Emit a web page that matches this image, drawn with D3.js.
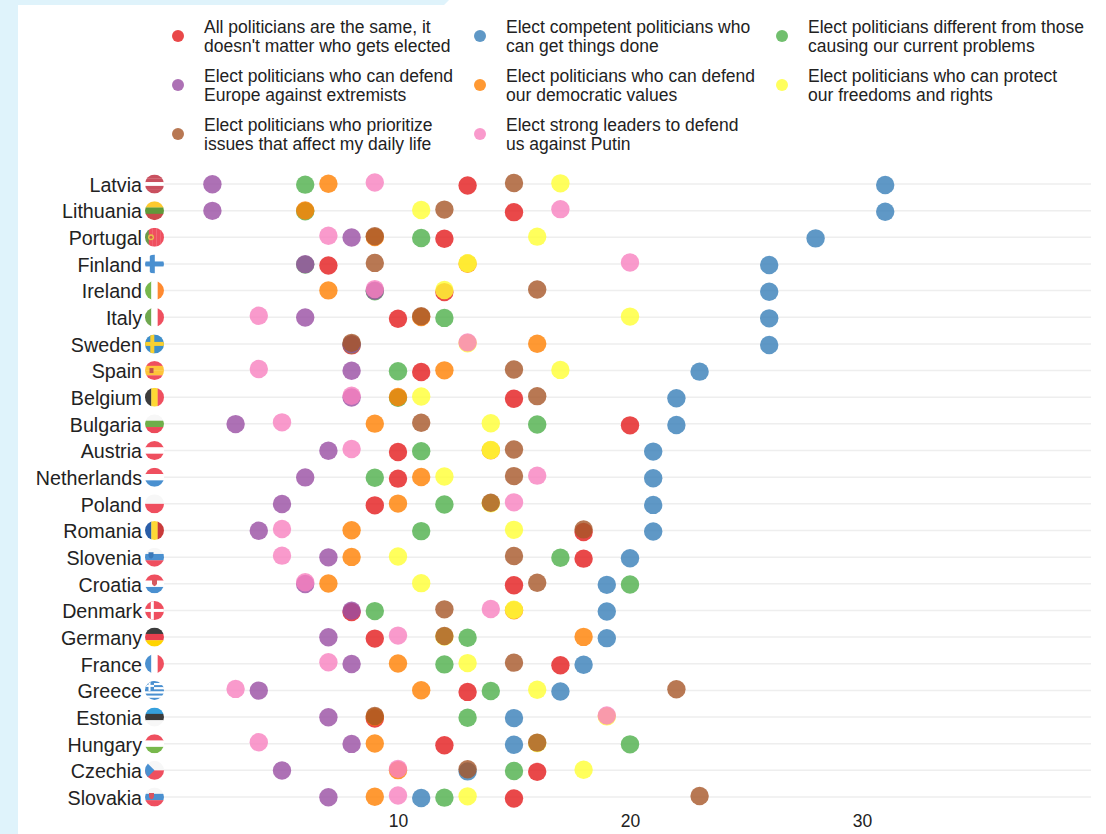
<!DOCTYPE html>
<html lang="en">
<head>
    <meta charset="UTF-8">
    <title>Voter priorities by country</title>
    <script src="https://d3js.org/d3.v7.min.js"></script>
    <style>
        html, body { margin: 0; padding: 0; background: #fff; }
        svg { display: block; font-family: "Liberation Sans", Arial, sans-serif; }
    </style>
</head>
<body>
    <div id="chart"></div>

    <script>
        const countries = ["Latvia", "Lithuania", "Portugal", "Finland", "Ireland", "Italy", "Sweden", "Spain",
            "Belgium", "Bulgaria", "Austria", "Netherlands", "Poland", "Romania", "Slovenia", "Croatia",
            "Denmark", "Germany", "France", "Greece", "Estonia", "Hungary", "Czechia", "Slovakia"];

        const red    = [13, 15, 12, 7, 12, 10, 8, 11, 15, 20, 10, 10, 9, 18, 18, 15, 8, 9, 17, 13, 9, 12, 16, 15];
        const blue   = [31, 31, 28, 26, 26, 26, 26, 23, 22, 22, 21, 21, 21, 21, 20, 19, 19, 19, 18, 17, 15, 15, 13, 11];
        const green  = [6, 6, 11, 6, 9, 12, 8, 10, 10, 16, 11, 9, 12, 11, 17, 20, 9, 13, 12, 14, 13, 20, 15, 12];
        const purple = [2, 2, 8, 6, 9, 6, 8, 8, 8, 3, 7, 6, 5, 4, 7, 6, 8, 7, 8, 4, 7, 8, 5, 7];
        const orange = [7, 6, 9, 13, 7, 11, 16, 12, 10, 9, 14, 11, 10, 8, 8, 7, 15, 18, 10, 11, 9, 9, 10, 9];
        const yellow = [17, 11, 16, 13, 12, 20, 13, 17, 11, 14, 14, 12, 14, 15, 10, 11, 15, 12, 13, 16, 19, 16, 18, 13];
        const brown  = [15, 12, 9, 9, 16, 11, 8, 15, 16, 11, 15, 15, 14, 18, 15, 16, 12, 12, 15, 22, 9, 16, 13, 23];
        const pink   = [9, 17, 7, 20, 9, 4, 13, 4, 8, 5, 8, 16, 15, 5, 5, 6, 14, 10, 7, 3, 19, 4, 10, 10];

        const seriesValues = [red, blue, green, purple, orange, yellow, brown, pink];
        const seriesColors = ["#e41a1c", "#377eb8", "#4daf4a", "#984ea3", "#ff7f00", "#ffff33", "#a65628", "#f781bf"];
        const seriesLabels = [
            ["All politicians are the same, it", "doesn't matter who gets elected"],
            ["Elect competent politicians who", "can get things done"],
            ["Elect politicians different from those", "causing our current problems"],
            ["Elect politicians who can defend", "Europe against extremists"],
            ["Elect politicians who can defend", "our democratic values"],
            ["Elect politicians who can protect", "our freedoms and rights"],
            ["Elect politicians who prioritize", "issues that affect my daily life"],
            ["Elect strong leaders to defend", "us against Putin"]
        ];
        const xTicks = [10, 20, 30];

        const width = 1106, height = 834;

        const svg = d3.select("#chart").append("svg")
            .attr("width", width)
            .attr("height", height);

        // page background the chart card sits on
        svg.append("path")
            .attr("d", "M0,0H449L444,5H18V834H0Z")
            .attr("fill", "#dff3fb");

        const x = d3.scaleLinear().domain([0, 40]).range([166, 1094]);
        const y = d3.scalePoint().domain(countries).range([184, 797]);
        // small vertical dodge between series, pink sits highest and red lowest
        const dodge = d3.scalePoint().domain([7, 6, 5, 4, 3, 2, 1, 0]).range([-1.5, 1.5]);

        // grid
        svg.append("g").selectAll("line")
            .data(countries)
            .join("line")
            .attr("x1", 164)
            .attr("x2", 1091)
            .attr("y1", d => y(d))
            .attr("y2", d => y(d))
            .attr("stroke", "#eeeeee")
            .attr("stroke-width", 1.5);

        // axes
        const yAxis = svg.append("g")
            .attr("transform", "translate(146,1)")
            .call(d3.axisLeft(y).tickSize(0).tickPadding(4));
        yAxis.select(".domain").remove();
        yAxis.selectAll("text")
            .attr("font-family", "'Liberation Sans', Arial, sans-serif")
            .attr("font-size", 19.7)
            .attr("fill", "#222");

        const xAxis = svg.append("g")
            .attr("transform", "translate(0,812)")
            .call(d3.axisBottom(x).tickValues(xTicks).tickSize(0).tickPadding(3));
        xAxis.select(".domain").remove();
        xAxis.selectAll("text")
            .attr("font-family", "'Liberation Sans', Arial, sans-serif")
            .attr("font-size", 17.5)
            .attr("fill", "#222");

        // flags
        const R = 9.5, flagX = 154.5;
        const defs = svg.append("defs");
        defs.append("clipPath").attr("id", "flag-clip")
            .append("circle").attr("r", R);

        const hStripes = (g, colors) => {
            const b = d3.scaleBand().domain(d3.range(colors.length)).range([-R, R]);
            g.selectAll(null).data(colors).join("rect")
                .attr("x", -R).attr("width", 2 * R)
                .attr("y", (d, i) => b(i)).attr("height", b.bandwidth() + 0.2)
                .attr("fill", d => d);
        };
        const vStripes = (g, colors) => {
            const b = d3.scaleBand().domain(d3.range(colors.length)).range([-R, R]);
            g.selectAll(null).data(colors).join("rect")
                .attr("y", -R).attr("height", 2 * R)
                .attr("x", (d, i) => b(i)).attr("width", b.bandwidth() + 0.2)
                .attr("fill", d => d);
        };
        const cross = (g, bg, color, t) => {
            hStripes(g, [bg]);
            g.append("rect").attr("x", -R).attr("y", -t / 2).attr("width", 2 * R).attr("height", t).attr("fill", color);
            g.append("rect").attr("x", -2.2 - t / 2).attr("y", -R).attr("width", t).attr("height", 2 * R).attr("fill", color);
        };
        const shield = (g, cx, cy, fill) => {
            g.append("path")
                .attr("d", `M${cx - 2.5},${cy - 3}h5v3.5q0,2 -2.5,3q-2.5,-1 -2.5,-3z`)
                .attr("fill", fill);
        };

        const fRed = "#ef4f5f", fBlue = "#4a90d0", fWhite = "#f7f7f7", fGreen = "#78b84c",
              fYellow = "#fdd835", fBlack = "#3c3c3c";

        const flags = {
            Latvia: g => hStripes(g, ["#c9505f", "#c9505f", "#fff", "#c9505f", "#c9505f"]),
            Lithuania: g => hStripes(g, ["#fdc92f", "#5f9a3a", "#c94b4b"]),
            Portugal: g => {
                vStripes(g, ["#6a9a4a", fRed, fRed, fRed, fRed]);
                g.append("circle").attr("cx", -3.5).attr("r", 3).attr("fill", "#e8c24a");
                g.append("circle").attr("cx", -3.5).attr("r", 1.5).attr("fill", "#d9534f");
            },
            Finland: g => cross(g, "#fff", fBlue, 5),
            Ireland: g => vStripes(g, [fGreen, "#fff", "#ff8a30"]),
            Italy: g => vStripes(g, ["#6fa84f", "#fff", fRed]),
            Sweden: g => cross(g, "#3f8fc9", "#f9d030", 4),
            Spain: g => {
                hStripes(g, [fRed, "#fdc53a", "#fdc53a", fRed]);
                g.append("rect").attr("x", -5).attr("y", -2.5).attr("width", 4).attr("height", 5).attr("fill", "#c0504d");
            },
            Belgium: g => vStripes(g, [fBlack, fYellow, fRed]),
            Bulgaria: g => hStripes(g, [fWhite, "#6faf4a", "#ec4a5a"]),
            Austria: g => hStripes(g, [fRed, "#fff", fRed]),
            Netherlands: g => hStripes(g, [fRed, "#fff", fBlue]),
            Poland: g => hStripes(g, [fWhite, fRed]),
            Romania: g => vStripes(g, ["#2a5ea8", fYellow, "#c93a3a"]),
            Slovenia: g => {
                hStripes(g, [fWhite, fBlue, fRed]);
                shield(g, -3.5, -2, "#3a78b8");
            },
            Croatia: g => {
                hStripes(g, [fRed, "#fff", fBlue]);
                shield(g, 0, -1, "#d65a5f");
            },
            Denmark: g => cross(g, fRed, "#fff", 3),
            Germany: g => hStripes(g, [fBlack, "#e8404f", "#ffd400"]),
            France: g => vStripes(g, [fBlue, "#fff", fRed]),
            Greece: g => {
                hStripes(g, [fBlue, "#fff", fBlue, "#fff", fBlue, "#fff", fBlue, "#fff", fBlue]);
                g.append("rect").attr("x", -R).attr("y", -R).attr("width", 9).attr("height", 10).attr("fill", fBlue);
                g.append("rect").attr("x", -6).attr("y", -R).attr("width", 2).attr("height", 10).attr("fill", "#fff");
                g.append("rect").attr("x", -R).attr("y", -5.5).attr("width", 9).attr("height", 2).attr("fill", "#fff");
            },
            Estonia: g => hStripes(g, ["#35a0dd", fBlack, fWhite]),
            Hungary: g => hStripes(g, [fRed, "#fff", fGreen]),
            Czechia: g => {
                hStripes(g, [fWhite, fRed]);
                g.append("path").attr("d", `M${-R},${-R}L0,0L${-R},${R}Z`).attr("fill", fBlue);
            },
            Slovakia: g => {
                hStripes(g, [fWhite, fBlue, fRed]);
                shield(g, -3, -1, "#d9535f");
            }
        };

        svg.append("g").selectAll("g")
            .data(countries)
            .join("g")
            .attr("transform", d => `translate(${flagX},${y(d)})`)
            .attr("clip-path", "url(#flag-clip)")
            .each(function (d) { flags[d](d3.select(this)); });

        // dots, one group per series
        svg.append("g").selectAll("g")
            .data(seriesValues)
            .join("g")
            .attr("fill", (d, i) => seriesColors[i])
            .attr("transform", (d, i) => `translate(0,${dodge(i)})`)
            .selectAll("circle")
            .data(d => d)
            .join("circle")
            .attr("cx", d => x(d))
            .attr("cy", (d, i) => y(countries[i]))
            .attr("r", 9.2)
            .attr("fill-opacity", 0.8);

        // legend: three columns, three rows
        const legendCol = d3.scalePoint().domain([0, 1, 2]).range([178, 782]);
        const legendRow = d3.scalePoint().domain([0, 1, 2]).range([36, 134]);

        const legend = svg.append("g").selectAll("g")
            .data(seriesLabels)
            .join("g")
            .attr("transform", (d, i) => `translate(${legendCol(i % 3)},${legendRow(Math.floor(i / 3))})`);

        legend.append("circle")
            .attr("r", 6)
            .attr("fill", (d, i) => seriesColors[i])
            .attr("fill-opacity", 0.8);

        legend.append("text")
            .attr("font-size", 17.5)
            .attr("fill", "#222")
            .selectAll("tspan")
            .data(d => d)
            .join("tspan")
            .attr("x", 26)
            .attr("y", (d, i) => i === 0 ? -3.5 : 15.5)
            .text(d => d);
    </script>
</body>
</html>
